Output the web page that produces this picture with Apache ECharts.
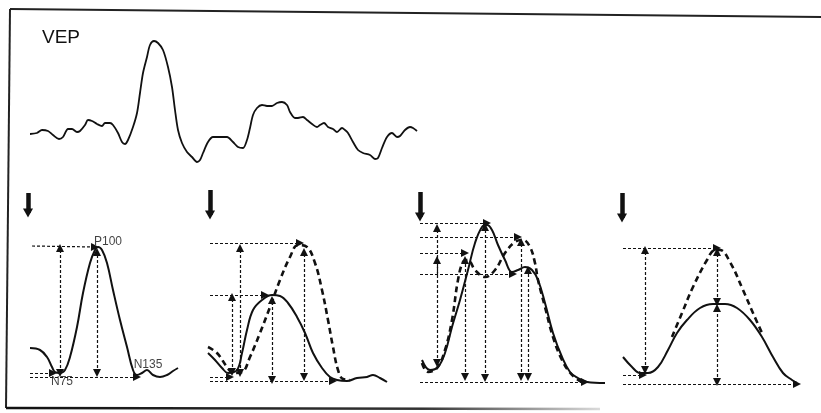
<!DOCTYPE html>
<html>
<head>
<meta charset="utf-8">
<title>VEP</title>
<script src="https://cdn.jsdelivr.net/npm/echarts@6/dist/echarts.min.js"></script>
<style>
  html, body { margin: 0; padding: 0; background: #fff; }
  #chart { width: 821px; height: 413px; }
</style>
</head>
<body>
<div id="chart"></div>
<script>
// top trace: [time, amplitude]
var vepTrace = [
  [0,0],[7,1],[12,4],[18,3],[23,-1],[29,-5],[33,-3],[38,5],[42,5],[47,2],[50,3],[55,9],[58,14],[62,13],
  [67,10],[72,8],[75,11],[80,11],[83,9],[88,1],[92,-8],[95,-10],[98,-6],[103,7],[107,21],[110,41],[113,61],
  [117,77],[120,89],[124,93],[128,91],[133,84],[138,67],[142,47],[145,24],[148,4],[152,-9],[157,-18],
  [162,-23],[167,-28],[170,-26],[173,-19],[178,-8],[183,-3],[190,-3],[197,-3],[203,-8],[208,-13],[213,-14],
  [217,-6],[220,6],[223,19],[227,26],[232,29],[237,28],[242,28],[247,31],[252,32],[257,29],[260,22],
  [265,16],[268,16],[273,17],[277,14],[282,10],[287,7],[290,9],[294,11],[298,7],[303,5],[307,2],[312,6],
  [315,4],[318,1],[323,-8],[328,-16],[333,-19],[340,-21],[345,-25],[348,-24],[352,-14],[357,-3],[362,1],
  [367,-3],[370,-2],[375,4],[380,7],[383,6],[387,3]
];

// panel 1 - normal response
var p1Solid = [
  [10,37],[20,35],[27,28],[32,18],[35,13],[40,12],[45,15],[50,28],[57,58],[63,92],[70,122],[75,135],
  [78,138],[82,135],[87,122],[93,95],[100,65],[107,38],[113,15],[117,10],[122,12],[127,15],[133,10],
  [140,8],[147,10],[153,14],[158,17]
];
var p1HArrows = [[12,139,75,138],[10,12,33,12],[10,8,117,8]];
var p1VArrows = [[40,12,40,137],[77,12,77,133]];
var p1Labels = [[88,143],[42,3],[128,20]];
var p1LabelNames = ['P100', 'N75', 'N135'];

// panel 2
var p2Solid = [
  [8,32],[15,25],[22,17],[28,12],[37,15],[42,32],[47,55],[53,75],[62,85],[72,90],[80,89],[88,82],
  [97,68],[105,52],[113,32],[122,17],[130,8],[137,5],[147,4],[157,7],[167,8],[173,10],[180,7],[187,3]
];
var p2Dashed = [
  [8,38],[17,32],[27,18],[33,12],[42,13],[50,28],[60,52],[70,78],[80,105],[90,128],[98,140],[107,138],
  [115,122],[122,95],[128,65],[133,38],[138,15],[143,6],[150,5]
];
var p2HArrows = [[10,142,100,142],[10,90,65,90],[10,8,30,8],[10,4,133,4]];
var p2VArrows = [[32,13,32,88],[40,12,40,137],[72,5,72,85],[104,8,104,133]];

// panel 3
var p3Solid = [
  [12,25],[20,15],[28,18],[35,32],[42,58],[50,85],[58,115],[65,142],[72,158],[77,160],[82,155],[88,140],
  [95,125],[102,113],[108,115],[115,118],[122,115],[128,105],[135,82],[143,52],[152,28],[160,13],
  [168,7],[177,3],[195,2]
];
var p3Dashed = [
  [12,22],[18,13],[27,17],[35,35],[42,65],[48,105],[53,123],[58,125],[65,115],[75,108],[85,115],
  [95,132],[105,143],[113,145],[120,138],[125,122],[128,105],[135,78],[143,48],[152,25],[162,10],[172,3]
];
var p3HArrows = [[10,162,77,162],[10,148,108,148],[10,132,55,132],[10,111,103,111],[10,3,175,3],[27,110,27,125]];
var p3VArrows = [[27,22,27,157],[55,8,55,125],[75,7,75,158],[111,8,111,143],[118,8,118,115]];

// panel 4
var p4Solid = [
  [8,28],[17,18],[25,12],[33,12],[43,18],[53,35],[62,52],[72,65],[85,77],[98,81],[110,81],[122,77],
  [135,65],[147,48],[158,28],[168,12],[177,5],[182,2]
];
var p4Dashed = [
  [57,48],[67,72],[78,98],[92,125],[100,135],[105,135],[115,123],[128,95],[138,72],[147,52]
];
var p4HArrows = [[8,137,102,137],[8,10,28,10],[8,1,182,1]];
var p4VArrows = [[30,15,30,135],[102,83,102,133],[102,3,102,77]];

// stimulus arrows [x, yTop, yBottom]
var stimArrows = [[8,192,172],[10,195,170],[10,193,168],[7,192,167]];

var ink = '#111';
var headSize = 8;

function arrowData(list, both) {
  return list.map(function (a) {
    return [
      { coord: [a[0], a[1]], symbol: both ? 'triangle' : 'none', symbolSize: headSize },
      { coord: [a[2], a[3]], symbol: 'triangle', symbolSize: headSize }
    ];
  });
}

function stimData(s) {
  return [[
    { coord: [s[0], s[1]], symbol: 'none', lineStyle: { type: 'solid', width: 4.5, color: ink } },
    { coord: [s[0], s[2]], symbol: 'triangle', symbolSize: [10, 9] }
  ]];
}

function panelMarks(h, v, s) {
  return {
    silent: true,
    animation: false,
    label: { show: false },
    emphasis: { disabled: true },
    lineStyle: { type: [3, 2], width: 1.2, color: '#111' },
    itemStyle: { color: ink },
    data: arrowData(h, false).concat(arrowData(v, true)).concat(stimData(s))
  };
}

function solidLine(idx, data, marks) {
  return {
    type: 'line', xAxisIndex: idx, yAxisIndex: idx, data: data,
    showSymbol: false, smooth: 0.4, silent: true,
    lineStyle: { color: ink, width: 2 },
    markLine: marks
  };
}

function dashedLine(idx, data) {
  return {
    type: 'line', xAxisIndex: idx, yAxisIndex: idx, data: data,
    showSymbol: false, smooth: 0.4, silent: true, z: 3,
    lineStyle: { color: ink, width: 2.6, type: [6, 4] }
  };
}

var grids = [
  { left: 30, top: 30, width: 390, height: 140 },
  { left: 20, top: 180, width: 170, height: 220 },
  { left: 200, top: 180, width: 195, height: 220 },
  { left: 410, top: 180, width: 200, height: 220 },
  { left: 615, top: 180, width: 195, height: 220 }
];
var xMax = [390, 170, 195, 200, 195];

var myChart = echarts.init(document.getElementById('chart'), null, { renderer: 'canvas' });
var option = {
  animation: false,
  backgroundColor: '#fff',
  title: {
    text: 'VEP', left: 37, top: 23,
    textStyle: { fontFamily: 'Liberation Sans', fontSize: 19, fontWeight: 'normal', color: ink }
  },
  grid: grids,
  xAxis: grids.map(function (g, i) {
    return { type: 'value', gridIndex: i, min: 0, max: xMax[i], show: false };
  }),
  yAxis: grids.map(function (g, i) {
    return i === 0
      ? { type: 'value', gridIndex: 0, min: -36, max: 104, show: false }
      : { type: 'value', gridIndex: i, min: -15, max: 205, show: false };
  }),
  graphic: [
    { type: 'line', shape: { x1: 10, y1: 9, x2: 821, y2: 17 }, style: { stroke: '#222', lineWidth: 2 } },
    { type: 'line', shape: { x1: 10, y1: 9, x2: 6, y2: 408 }, style: { stroke: '#222', lineWidth: 2 } },
    {
      type: 'line', shape: { x1: 6, y1: 408, x2: 600, y2: 409 },
      style: {
        lineWidth: 2.5,
        stroke: new echarts.graphic.LinearGradient(0, 0, 1, 0, [
          { offset: 0, color: '#111' }, { offset: 0.7, color: '#333' }, { offset: 1, color: '#ddd' }
        ])
      }
    }
  ],
  series: [
    {
      type: 'line', xAxisIndex: 0, yAxisIndex: 0, data: vepTrace,
      showSymbol: false, smooth: 0.3, silent: true,
      lineStyle: { color: ink, width: 1.8 }
    },
    solidLine(1, p1Solid, panelMarks(p1HArrows, p1VArrows, stimArrows[0])),
    {
      type: 'scatter', xAxisIndex: 1, yAxisIndex: 1, silent: true,
      data: p1Labels, symbolSize: 0,
      label: {
        show: true, position: 'inside', color: ink,
        fontFamily: 'Liberation Sans', fontSize: 12,
        formatter: function (p) { return p1LabelNames[p.dataIndex]; }
      }
    },
    solidLine(2, p2Solid, panelMarks(p2HArrows, p2VArrows, stimArrows[1])),
    dashedLine(2, p2Dashed),
    solidLine(3, p3Solid, panelMarks(p3HArrows, p3VArrows, stimArrows[2])),
    dashedLine(3, p3Dashed),
    solidLine(4, p4Solid, panelMarks(p4HArrows, p4VArrows, stimArrows[3])),
    dashedLine(4, p4Dashed)
  ]
};
myChart.setOption(option);
</script>
</body>
</html>
